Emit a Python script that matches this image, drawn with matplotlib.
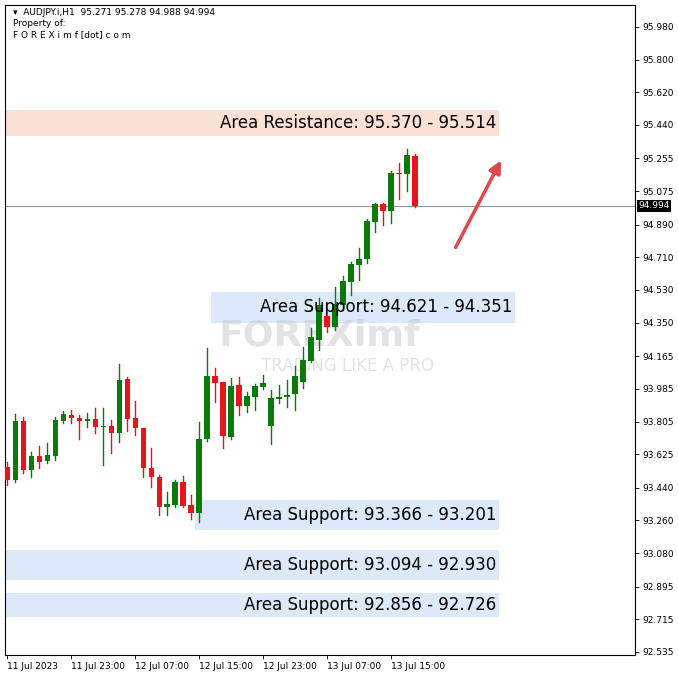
import matplotlib
matplotlib.use("Agg")
import matplotlib.pyplot as plt
from matplotlib.patches import Rectangle

opens = [93.555,93.483,93.808,93.538,93.615,93.588,93.615,93.808,93.841,93.825,93.808,93.819,93.775,93.778,93.742,94.040,93.825,93.770,93.549,93.500,
         93.334,93.345,93.472,93.345,93.301,93.709,94.056,94.023,93.720,94.007,93.891,93.940,93.996,93.781,93.930,93.940,93.957,94.023,94.140,94.254,
         94.387,94.326,94.447,94.574,94.668,94.701,94.905,95.004,94.966,95.175,95.170,95.271]
highs = [93.582,93.847,93.830,93.637,93.670,93.687,93.830,93.863,93.869,93.841,93.852,93.880,93.880,93.814,94.122,94.051,93.918,93.770,93.659,93.511,
         93.417,93.483,93.505,93.401,93.803,94.211,94.100,94.023,94.045,94.051,93.968,94.012,94.062,93.979,94.007,94.034,94.111,94.216,94.321,94.486,
         94.387,94.547,94.607,94.684,94.762,94.922,95.010,95.010,95.186,95.230,95.308,95.278]
lows = [93.456,93.472,93.522,93.500,93.549,93.577,93.593,93.797,93.797,93.709,93.775,93.742,93.566,93.632,93.692,93.753,93.731,93.500,93.445,93.290,
        93.290,93.334,93.334,93.268,93.252,93.700,93.913,93.659,93.709,93.841,93.858,93.869,93.985,93.682,93.908,93.886,93.869,93.990,94.134,94.200,
        94.299,94.310,94.420,94.503,94.585,94.679,94.850,94.889,94.900,95.032,95.076,94.988]
closes = [93.483,93.808,93.538,93.615,93.582,93.621,93.814,93.847,93.825,93.808,93.819,93.775,93.781,93.742,94.034,93.819,93.770,93.549,93.500,93.334,
          93.351,93.472,93.340,93.301,93.709,94.056,94.018,93.726,94.001,93.891,93.946,94.001,94.018,93.935,93.940,93.952,94.056,94.145,94.271,94.447,
          94.326,94.453,94.580,94.673,94.701,94.911,95.004,94.966,95.175,95.170,95.274,94.994]

price_ticks = [95.980,95.800,95.620,95.440,95.255,95.075,94.890,94.710,94.530,94.350,94.165,93.985,93.805,93.625,93.440,93.260,93.080,92.895,92.715,92.535]
time_labels = ["11 Jul 2023","11 Jul 23:00","12 Jul 07:00","12 Jul 15:00","12 Jul 23:00","13 Jul 07:00","13 Jul 15:00"]
time_idx = [0,8,16,24,32,40,48]

zone_labels = ["Area Resistance: 95.370 - 95.514","Area Support: 94.621 - 94.351",
               "Area Support: 93.366 - 93.201","Area Support: 93.094 - 92.930","Area Support: 92.856 - 92.726"]
zone_low = [95.379,94.350,93.208,92.932,92.728]
zone_high = [95.522,94.520,93.373,93.097,92.860]
zone_x0 = [0,26,24,0,0]
zone_x1 = [62,64,62,62,62]
zone_colors = ["#fbe0d6","#dbe9f8","#dbe9f8","#dbe9f8","#dbe9f8"]
last_price = 94.994

fig = plt.figure(figsize=(6.78,6.78), dpi=100)
ax = fig.add_axes([5/678, 23/678, 630/678, 650/678])
ax.set_xlim(-0.3, 78.5)
ax.set_ylim(92.518, 96.101)

for i in range(len(zone_labels)):
    ax.add_patch(Rectangle((zone_x0[i]-0.5, zone_low[i]), zone_x1[i]-zone_x0[i], zone_high[i]-zone_low[i],
                           color=zone_colors[i], lw=0, zorder=1))
    ax.text(zone_x1[i]-0.8, (zone_low[i]+zone_high[i])/2, zone_labels[i], ha="right", va="center",
            fontsize=12, color="black", zorder=5)

ax.text(39, 94.28, "FOREXimf", fontsize=26, fontweight="bold", color="#c8c8d0", alpha=0.5,
        ha="center", va="center", zorder=2)
ax.text(42.5, 94.11, "TRADING LIKE A PRO", fontsize=12, color="#c8c8d0", alpha=0.5,
        ha="center", va="center", zorder=2)

ax.axhline(last_price, color="#8a9aa0", lw=0.8, zorder=2)

for i in range(len(opens)):
    o, h, l, c = opens[i], highs[i], lows[i], closes[i]
    col = "#0b7a0b" if c >= o else "#e8141a"
    ax.plot([i, i], [l, h], color=col, lw=1, zorder=3)
    ax.add_patch(Rectangle((i-0.35, min(o, c)), 0.7, max(abs(c-o), 0.004), color=col, lw=0, zorder=4))

ax.annotate("", xy=(61.9, 95.258), xytext=(55.9, 94.751),
            arrowprops=dict(arrowstyle="-|>", color="#e0474c", lw=2.5, mutation_scale=18), zorder=6)

ax.yaxis.tick_right()
ax.set_yticks(price_ticks)
ax.set_yticklabels([f"{p:.3f}" for p in price_ticks], fontsize=6.5)
ax.set_xticks(time_idx)
ax.set_xticklabels(time_labels, fontsize=6.5, ha="left")
ax.tick_params(length=3, width=0.6, pad=2)
for s in ax.spines.values():
    s.set_linewidth(0.8)

ax.text(0.012, 0.995, "▾  AUDJPY.i,H1  95.271 95.278 94.988 94.994\nProperty of:\nF O R E X i m f [dot] c o m",
        transform=ax.transAxes, fontsize=6.5, va="top", ha="left", linespacing=1.3)
ax.text(1.005, last_price, f"{last_price:.3f}", transform=ax.get_yaxis_transform(), fontsize=6.5,
        color="white", va="center", ha="left", bbox=dict(facecolor="black", edgecolor="none", pad=1))

fig.savefig("out.png", dpi=100)
